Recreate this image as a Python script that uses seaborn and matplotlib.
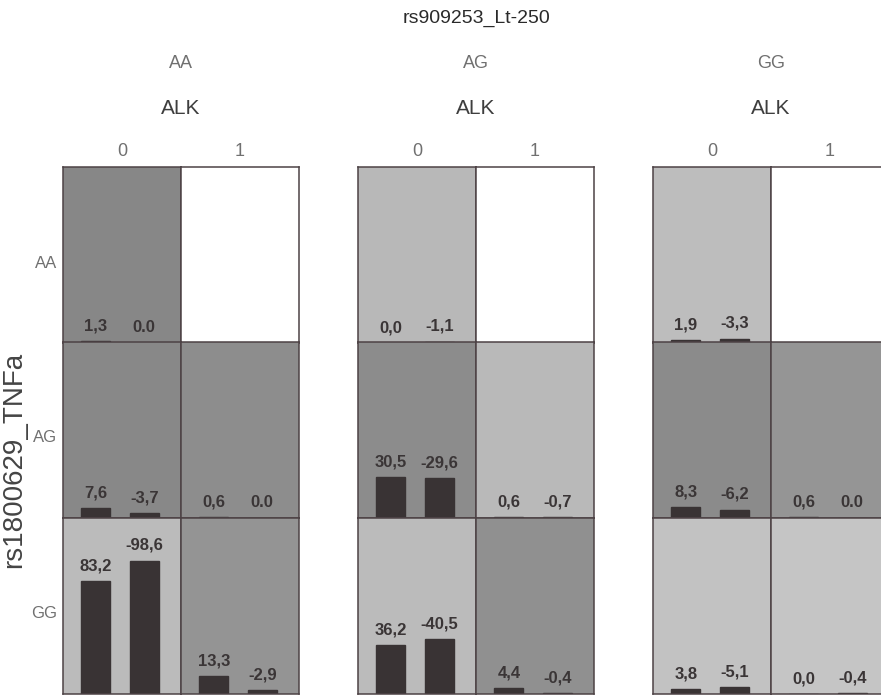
import matplotlib
matplotlib.use("Agg")
import matplotlib.pyplot as plt
import seaborn as sns
import pandas as pd

# Lt-250 genotype panels, ALK levels inside each panel, TNFa genotype rows
lt_groups = ["AA", "AG", "GG"]
alk_levels = ["0", "1"]
tnf_rows = ["AA", "AG", "GG"]

# columns: Lt AA/ALK0, Lt AA/ALK1, Lt AG/ALK0, Lt AG/ALK1, Lt GG/ALK0, Lt GG/ALK1
# None = empty cell
val_first = [
    [1.3, None, 0.0, None, 1.9, None],
    [7.6, 0.6, 30.5, 0.6, 8.3, 0.6],
    [83.2, 13.3, 36.2, 4.4, 3.8, 0.0],
]
val_second = [
    [0.0, None, -1.1, None, -3.3, None],
    [-3.7, 0.0, -29.6, -0.7, -6.2, 0.0],
    [-98.6, -2.9, -40.5, -0.4, -5.1, -0.4],
]
cell_shade = [
    ["#878787", "#ffffff", "#b8b8b8", "#ffffff", "#bdbdbd", "#ffffff"],
    ["#888888", "#8d8d8d", "#8c8c8c", "#b9b9b9", "#8b8b8b", "#959595"],
    ["#bbbbbb", "#949494", "#bbbbbb", "#909090", "#c2c2c2", "#c5c5c5"],
]

W, H = 881, 697
sns.set_style("white")
plt.rcParams["font.family"] = ["Liberation Sans", "DejaVu Sans"]

fig = plt.figure(figsize=(W / 100, H / 100), dpi=100)

col_left = [63, 181, 358, 476, 653, 771]
row_top = [167, 342, 518]
cell_w, cell_h = 118, 176
bar_col = "#393334"
edge_col = "#4d4245"


def fmt(v, second=False):
    if second and v == 0:
        return "0.0"
    return f"{v:.1f}".replace(".", ",")


for r in range(3):
    for c in range(6):
        ax = fig.add_axes([col_left[c] / W, 1 - (row_top[r] + cell_h) / H,
                           cell_w / W, cell_h / H])
        ax.set_facecolor(cell_shade[r][c])
        a, b = val_first[r][c], val_second[r][c]
        if a is not None:
            df = pd.DataFrame({"pos": ["a", "b"], "val": [abs(a), abs(b)]})
            sns.barplot(data=df, x="pos", y="val", ax=ax, color=bar_col,
                        saturation=1, width=0.6, edgecolor=bar_col)
            for i, (v, sec) in enumerate([(a, False), (b, True)]):
                ax.annotate(fmt(v, sec), (i, abs(v)), xytext=(0, 5.5),
                            textcoords="offset points", ha="center", va="bottom",
                            fontsize=12, fontweight="bold", color="#3a3536")
        ax.set_xlim(-0.68, 1.76)
        ax.set_ylim(0, 130)
        ax.set_xticks([])
        ax.set_yticks([])
        ax.set_xlabel("")
        ax.set_ylabel("")
        for s in ax.spines.values():
            s.set_color(edge_col)
            s.set_linewidth(1.1)

# headers
fig.text(476 / W, 1 - 18 / H, "rs909253_Lt-250", ha="center", va="center",
         fontsize=14, color="#2a2a2a")
for g, name in enumerate(lt_groups):
    cx = (col_left[2 * g] + cell_w) / W
    fig.text(cx, 1 - 63 / H, name, ha="center", va="center", fontsize=13,
             color="#707070")
    fig.text(cx, 1 - 108 / H, "ALK", ha="center", va="center", fontsize=15,
             color="#3e3e3e")
    for k, lev in enumerate(alk_levels):
        fig.text((col_left[2 * g + k] + cell_w / 2) / W, 1 - 152 / H, lev,
                 ha="center", va="center", fontsize=13, color="#707070")

for r, name in enumerate(tnf_rows):
    fig.text(57 / W, 1 - (row_top[r] + cell_h / 2 + 8) / H, name, ha="right",
             va="center", fontsize=12, color="#707070")

fig.text(14 / W, 1 - 460 / H, "rs1800629_TNFa", rotation=90, ha="center",
         va="center", fontsize=20, color="#444444")

fig.savefig("out.png", dpi=100)
